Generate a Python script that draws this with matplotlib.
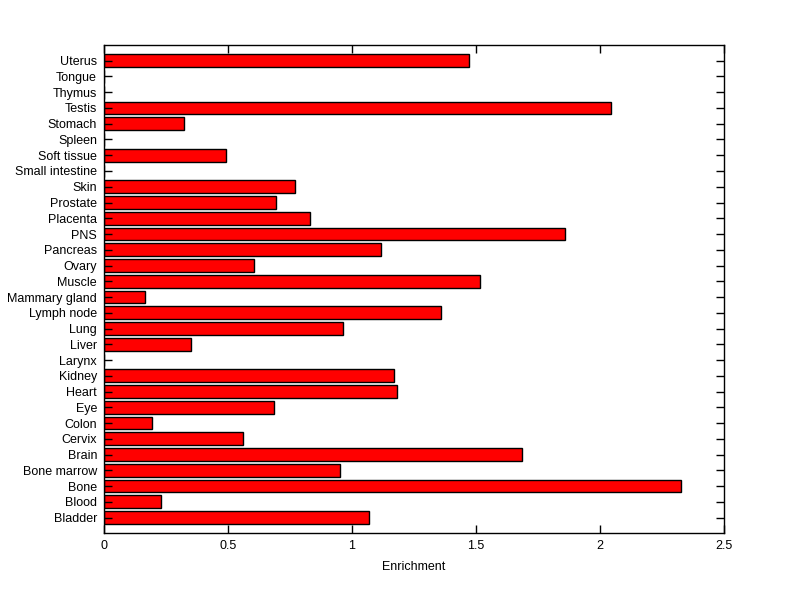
import matplotlib
matplotlib.use("Agg")
import matplotlib.pyplot as plt
import numpy as np

tissues = [
    "Bladder", "Blood", "Bone", "Bone marrow", "Brain", "Cervix", "Colon",
    "Eye", "Heart", "Kidney", "Larynx", "Liver", "Lung", "Lymph node",
    "Mammary gland", "Muscle", "Ovary", "Pancreas", "PNS", "Placenta",
    "Prostate", "Skin", "Small intestine", "Soft tissue", "Spleen",
    "Stomach", "Testis", "Thymus", "Tongue", "Uterus",
]
enrichment = [
    1.070, 0.231, 2.328, 0.953, 1.687, 0.562, 0.195,
    0.687, 1.183, 1.171, 0.0, 0.352, 0.965, 1.360,
    0.167, 1.515, 0.606, 1.118, 1.860, 0.832,
    0.695, 0.772, 0.0, 0.491, 0.0,
    0.324, 2.046, 0.0, 0.0, 1.473,
]
xticks = [0, 0.5, 1, 1.5, 2, 2.5]
xtick_labels = ["0", "0.5", "1", "1.5", "2", "2.5"]

plt.rcParams["font.family"] = ["Liberation Sans", "DejaVu Sans"]

fig = plt.figure(figsize=(8, 5.99), dpi=100)
ax = fig.add_axes([0.13, 0.1097, 0.775, 0.8152])

pos = np.arange(1, len(tissues) + 1)
ax.barh(pos, enrichment, height=0.8, color="#ff0000",
        edgecolor="black", linewidth=1.0)

ax.set_xlim(0, 2.5)
ax.set_ylim(0, len(tissues) + 1)
ax.set_xticks(xticks)
ax.set_xticklabels(xtick_labels)
ax.set_yticks(pos)
ax.set_yticklabels(tissues)
ax.set_xlabel("Enrichment", fontsize=9, labelpad=6)

ax.tick_params(direction="in", length=6, width=1, labelsize=9,
               top=True, right=True, pad=5)
for spine in ax.spines.values():
    spine.set_linewidth(1)

fig.savefig("out.png", dpi=100)
